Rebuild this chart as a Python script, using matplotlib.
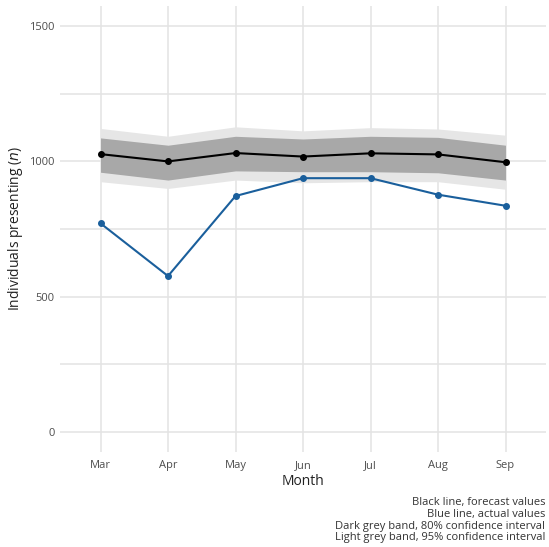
import matplotlib
matplotlib.use("Agg")
import matplotlib.pyplot as plt
from matplotlib.ticker import MultipleLocator

# values
months = ["Mar", "Apr", "May", "Jun", "Jul", "Aug", "Sep"]
forecast = [1027, 1000, 1031, 1018, 1030, 1026, 997]
actual = [771, 576, 872, 938, 938, 877, 836]
lo80 = [960, 931, 965, 962, 962, 958, 931]
hi80 = [1087, 1060, 1093, 1083, 1093, 1089, 1060]
lo95 = [925, 900, 931, 921, 925, 925, 897]
hi95 = [1122, 1093, 1128, 1113, 1125, 1120, 1097]

caption = ["Black line, forecast values",
           "Blue line, actual values",
           "Dark grey band, 80% confidence interval",
           "Light grey band, 95% confidence interval"]

plt.rcParams["font.family"] = ["Open Sans", "DejaVu Sans"]

fig = plt.figure(figsize=(5.49, 5.47), dpi=100)
ax = fig.add_axes([60 / 549, 1 - 452 / 547, 486 / 549, 446 / 547])

x = list(range(len(months)))
ax.fill_between(x, lo95, hi95, color="#e6e6e6", lw=0, zorder=2)
ax.fill_between(x, lo80, hi80, color="#a8a8a8", lw=0, zorder=3)
ax.plot(x, forecast, color="black", lw=1.5, marker="o", ms=4, zorder=5)
ax.plot(x, actual, color="#1a5f9c", lw=1.5, marker="o", ms=4, zorder=5)

ax.set_xlim(-0.6, len(months) - 1 + 0.6)
ax.set_ylim(-75, 1575)
ax.set_xticks(x)
ax.set_xticklabels(months)
ax.yaxis.set_major_locator(MultipleLocator(500))
ax.yaxis.set_minor_locator(MultipleLocator(250))

ax.grid(True, which="major", color="#e3e3e3", lw=1.1, zorder=0)
ax.grid(True, which="minor", axis="y", color="#e3e3e3", lw=1.1, zorder=0)
ax.set_axisbelow(True)
for s in ax.spines.values():
    s.set_visible(False)
ax.tick_params(which="both", length=0, labelsize=8, labelcolor="#4d4d4d")
ax.tick_params(axis="x", pad=6)
ax.tick_params(axis="y", pad=4)

ax.set_xlabel("Month", fontsize=10, labelpad=2, color="#222222")
ax.set_ylabel("Individuals presenting ($\\it{n}$)", fontsize=10, labelpad=3,
              color="#222222")

fig.text(545 / 549, 1 - 497 / 547, "\n".join(caption), ha="right", va="top",
         fontsize=8, linespacing=1.1, color="#333333")

fig.savefig("out.png", dpi=100)
